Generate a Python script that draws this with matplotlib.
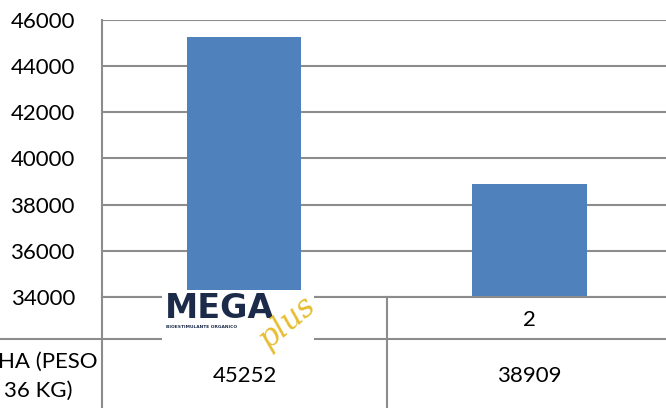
import matplotlib.pyplot as plt
import matplotlib.transforms as mtransforms
from matplotlib.lines import Line2D
from matplotlib.patches import Rectangle

# dados do gráfico (o rótulo da 1ª categoria fica escondido sob o logotipo)
categorias = ["", "2"]
valores = [45252, 38909]
rotulo_linha = ["HA (PESO", "36 KG)"]
yticks = [34000, 36000, 38000, 40000, 42000, 44000, 46000]

W, H = 666, 408
plt.rcParams['font.family'] = ['Lato', 'DejaVu Sans']

fig = plt.figure(figsize=(W / 100, H / 100), dpi=100)
# área do gráfico (passa um pouco da borda direita, como no original)
ax = fig.add_axes([102 / W, 1 - 297 / H, 570 / W, 277 / H])

x = list(range(len(categorias)))
ax.bar(x, valores, width=0.4, color='#4F81BD', zorder=3)
ax.set_xlim(-0.5, len(categorias) - 0.5)
ax.set_ylim(34000, 46000)
ax.set_yticks(yticks)
ax.set_yticklabels([str(t) for t in yticks], fontsize=16)
ax.tick_params(axis='y', length=0, pad=19.5)
ax.set_xticks([])
ax.yaxis.grid(True, color='#8C8C8C', linewidth=1.5, zorder=0)
for s in ['top', 'right', 'bottom']:
    ax.spines[s].set_visible(False)
ax.spines['left'].set_color('#8C8C8C')
ax.spines['left'].set_linewidth(1.5)

# tabela de dados embaixo
trans = mtransforms.blended_transform_factory(ax.transData, fig.transFigure)
gc = '#8C8C8C'
y_top = 1 - 297 / H
y_mid = 1 - 339 / H
fig.add_artist(Line2D([-0.5, 1.6], [y_top, y_top], transform=trans, color=gc, lw=1.5))
fig.add_artist(Line2D([0, 1], [y_mid, y_mid], transform=fig.transFigure, color=gc, lw=1.5))
fig.add_artist(Line2D([-0.5, -0.5], [0, y_top], transform=trans, color=gc, lw=1.5))
fig.add_artist(Line2D([0.5, 0.5], [0, y_top], transform=trans, color=gc, lw=1.5))

for xi, cat, val in zip(x, categorias, valores):
    if cat:
        fig.text(xi, 1 - 320 / H, cat, transform=trans, ha='center', va='center', fontsize=16)
    fig.text(xi, 1 - 376 / H, str(val), transform=trans, ha='center', va='center', fontsize=16)

fig.text(97 / W, 1 - 362 / H, rotulo_linha[0], ha='right', va='center', fontsize=16)
fig.text(72 / W, 1 - 391 / H, rotulo_linha[1], ha='right', va='center', fontsize=16)

# logotipo sobre a primeira categoria
fig.add_artist(Rectangle((162 / W, 1 - 351 / H), 152 / W, 61 / H,
                         transform=fig.transFigure, facecolor='white', edgecolor='none', zorder=5))
fig.text(165 / W, 1 - 308 / H, "MEGA", fontsize=24, fontweight='heavy', family='DejaVu Sans',
         color='#1C2B4A', ha='left', va='center', zorder=6)
fig.text(166 / W, 1 - 327 / H, "BIOESTIMULANTE ORGANICO", fontsize=3.2, fontweight='bold',
         family='DejaVu Sans', color='#1C2B4A', ha='left', va='center', zorder=6)
fig.text(287 / W, 1 - 322 / H, "plus", fontsize=22, style='italic', family='DejaVu Serif',
         color='#E6BD2F', ha='center', va='center', rotation=40, zorder=7)

fig.savefig('out.png', dpi=100)
